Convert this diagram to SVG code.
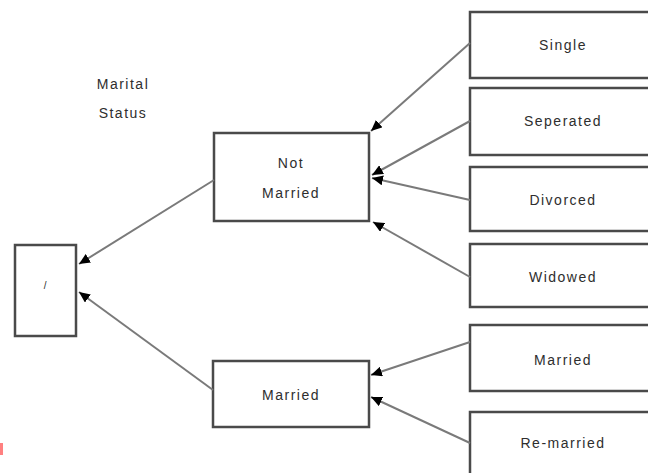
<svg xmlns="http://www.w3.org/2000/svg" width="648" height="473" viewBox="0 0 648 473">
<style>
.box{fill:#fff;stroke:#4a4a4a;stroke-width:2.5}
.t{font-family:"Liberation Sans",Arial,sans-serif;font-size:14px;fill:#2e2e2e;text-anchor:middle;letter-spacing:1.5px}
.c{stroke:#7a7a7a;stroke-width:2;fill:none;marker-end:url(#ah)}
</style>
<defs>
<marker id="ah" markerUnits="userSpaceOnUse" markerWidth="12" markerHeight="10" refX="11" refY="5" orient="auto">
<path d="M0,0 L11,5 L0,10 z" fill="#000"/>
</marker>
</defs>
<rect width="648" height="473" fill="#fff"/>
<g id="title"><text class="t" x="123" y="89">Marital</text><text class="t" x="123" y="118">Status</text></g>
<g id="root"><rect class="box" x="15" y="245" width="61" height="91"/><text class="t" x="46" y="289" style="font-size:10px">/</text></g>
<g id="notmarried"><rect class="box" x="214" y="133" width="155" height="88"/><text class="t" x="291" y="168">Not</text><text class="t" x="291" y="198">Married</text></g>
<g id="married"><rect class="box" x="213" y="361" width="156" height="66"/><text class="t" x="291" y="400">Married</text></g>
<g id="single"><rect class="box" x="470" y="12" width="190" height="66"/><text class="t" x="563" y="50">Single</text></g>
<g id="separated"><rect class="box" x="470" y="88" width="190" height="67"/><text class="t" x="563" y="126">Seperated</text></g>
<g id="divorced"><rect class="box" x="470" y="167" width="190" height="64"/><text class="t" x="563" y="205">Divorced</text></g>
<g id="widowed"><rect class="box" x="470" y="244" width="190" height="63"/><text class="t" x="563" y="282">Widowed</text></g>
<g id="married2"><rect class="box" x="470" y="325" width="190" height="66"/><text class="t" x="563" y="365">Married</text></g>
<g id="remarried"><rect class="box" x="470" y="412" width="190" height="70"/><text class="t" x="563" y="448">Re-married</text></g>
<g id="connectors">
<line class="c" x1="470" y1="43" x2="371" y2="131"/>
<line class="c" x1="470" y1="121" x2="372" y2="175"/>
<line class="c" x1="470" y1="200" x2="372" y2="178"/>
<line class="c" x1="470" y1="277" x2="373" y2="222"/>
<line class="c" x1="214" y1="180" x2="79" y2="264"/>
<line class="c" x1="213" y1="390" x2="79" y2="292"/>
<line class="c" x1="470" y1="342" x2="371" y2="375"/>
<line class="c" x1="470" y1="443" x2="371" y2="397"/>
</g>
<rect x="0" y="443" width="3" height="12" fill="#ff8080"/>
</svg>
